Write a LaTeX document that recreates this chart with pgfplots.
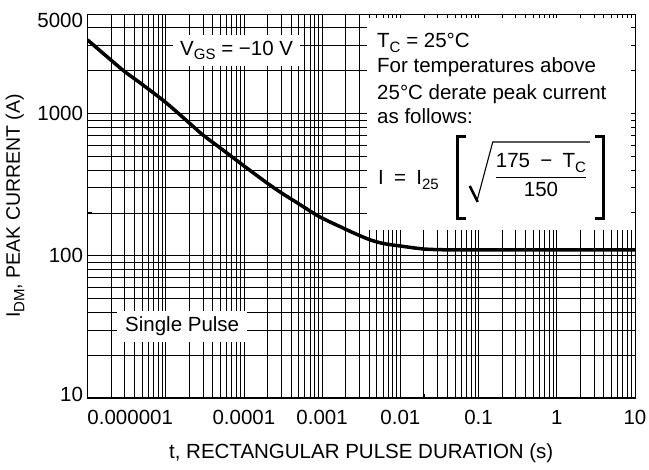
\documentclass[border=0pt]{standalone}
\usepackage{fontspec}
\setmainfont{Liberation Sans}
\usepackage{pgfplots}
\pgfplotsset{compat=1.18}

% lowered subscript in the text font
\newcommand\sub[1]{\raisebox{-4.5pt}{\fontsize{15}{15}\selectfont #1}}
% heavy square brackets of the derating formula
\newcommand\lbrk{\rule[-35pt]{3pt}{85pt}\rlap{\rule[-35pt]{7pt}{3pt}}\rlap{\rule[47pt]{7pt}{3pt}}}
\newcommand\rbrk{\llap{\rule[-35pt]{7pt}{3pt}}\llap{\rule[47pt]{7pt}{3pt}}\rule[-35pt]{3pt}{85pt}}
% root sign with a bold check, as in the datasheet
\newcommand\rootsign{\rlap{\tikz[baseline=0pt, trim left=0pt]{%
  \draw[line width=2.6pt] (0pt,-1pt) -- (8pt,-17pt);
  \draw[line width=1.1pt, line join=miter] (7.2pt,-16pt) -- (23pt,43pt) -- (120pt,43pt);}}}

\begin{document}
\begin{tikzpicture}[font=\fontsize{20.5}{25}\selectfont]
\begin{axis}[
    name=ax,
    xmode=log, ymode=log,
    scale only axis, width=547.5pt, height=384pt,
    xmin=1e-6, xmax=10, ymin=10, ymax=5000,
    xtick={1e-6,1e-5,1e-4,1e-3,1e-2,1e-1,1,10},
    ytick={10,100,1000,5000},
    minor xtick={2e-6,3e-6,4e-6,5e-6,6e-6,7e-6,8e-6,9e-6,
                 2e-5,3e-5,4e-5,5e-5,6e-5,7e-5,8e-5,9e-5,
                 2e-4,3e-4,4e-4,5e-4,6e-4,7e-4,8e-4,9e-4,
                 2e-3,3e-3,4e-3,5e-3,6e-3,7e-3,8e-3,9e-3,
                 0.02,0.03,0.04,0.05,0.06,0.07,0.08,0.09,
                 0.2,0.3,0.4,0.5,0.6,0.7,0.8,0.9,
                 2,3,4,5,6,7,8,9},
    minor ytick={20,30,40,50,60,70,80,90,
                 200,300,400,500,600,700,800,900,
                 2000,3000,4000},
    grid=both,
    major grid style={black, line width=0.8pt},
    minor grid style={black, line width=0.8pt},
    major tick length=0pt, minor tick length=0pt,
    axis line style={line width=0.8pt},
    xticklabels={\makebox[0pt][l]{0.000001},,0.0001,0.001,0.01,0.1,1,10},
    yticklabels={\raisebox{4pt}[\height][0pt]{10},100,1000,\raisebox{-6pt}[\height][0pt]{5000}},
    xticklabel style={yshift=-9pt},
    yticklabel style={xshift=-1pt},
    xlabel={t, RECTANGULAR PULSE DURATION (s)},
    ylabel={I\sub{DM}, PEAK CURRENT (A)},
    every axis x label/.style={at={(axis description cs:0.5,-0.143)}, anchor=center},
    every axis y label/.style={at={(axis description cs:-0.1324,0.5)}, anchor=center, rotate=90,
      font=\fontsize{19.5}{24}\selectfont},
  ]
  \addplot[black, line width=3.5pt, smooth] coordinates {
    (1e-6,3290) (2e-6,2370) (3e-6,1966) (5e-6,1600) (1e-5,1195)
    (2e-5,857) (3e-5,705) (5e-5,571) (1e-4,428) (2e-4,323)
    (3e-4,277) (5e-4,232) (8.5e-4,193) (1.2e-3,175) (1.7e-3,160)
    (2.5e-3,145) (4e-3,130) (6e-3,122) (1e-2,117) (2e-2,111.5)
    (4e-2,110) (0.1,110) (1,110) (10,110)
  };

  % white panels
  \fill[white] (rel axis cs:0.5105,0.4375) rectangle (rel axis cs:1,1);
  \node[fill=white, inner xsep=7pt, inner ysep=6pt, anchor=base west]
    at (rel axis cs:0.1562,0.8932) {V\sub{GS} = −10 V};
  \node[fill=white, inner xsep=8pt, inner ysep=6pt, anchor=base west]
    at (rel axis cs:0.0539,0.1727) {Single Pulse};

  \node[inner sep=0pt, anchor=base west] at (rel axis cs:0.5288,0.9115) {T\sub{C} = 25°C};
  \node[inner sep=0pt, anchor=base west] at (rel axis cs:0.5288,0.8464) {For temperatures above};
  \node[inner sep=0pt, anchor=base west] at (rel axis cs:0.5288,0.7786) {25°C derate peak current};
  \node[inner sep=0pt, anchor=base west] at (rel axis cs:0.5288,0.7161) {as follows:};
  \node[inner sep=0pt, anchor=base west] at (rel axis cs:0.5306,0.5547)
    {I\hspace{0.5em}=\hspace{0.5em}I\sub{25}\hspace{17pt}\lbrk\hspace{11pt}\rootsign\hspace{25pt}%
     \raisebox{3pt}{$\displaystyle\frac{\mbox{175\hspace{0.5em}−\hspace{0.5em}T\sub{C}}}{\mbox{150}}$}%
     \hspace{15pt}\rbrk};
\end{axis}

% frame and inward ticks drawn over the white panels
\begin{axis}[
    xmode=log, ymode=log,
    scale only axis, width=547.5pt, height=384pt,
    xmin=1e-6, xmax=10, ymin=10, ymax=5000,
    xtick={1e-6,1e-5,1e-4,1e-3,1e-2,1e-1,1,10},
    ytick={10,100,1000,5000},
    minor xtick={2e-6,3e-6,4e-6,5e-6,6e-6,7e-6,8e-6,9e-6,
                 2e-5,3e-5,4e-5,5e-5,6e-5,7e-5,8e-5,9e-5,
                 2e-4,3e-4,4e-4,5e-4,6e-4,7e-4,8e-4,9e-4,
                 2e-3,3e-3,4e-3,5e-3,6e-3,7e-3,8e-3,9e-3,
                 0.02,0.03,0.04,0.05,0.06,0.07,0.08,0.09,
                 0.2,0.3,0.4,0.5,0.6,0.7,0.8,0.9,
                 2,3,4,5,6,7,8,9},
    minor ytick={20,30,40,50,60,70,80,90,
                 200,300,400,500,600,700,800,900,
                 2000,3000,4000},
    xticklabels={}, yticklabels={},
    tick align=inside,
    major tick length=4.5pt, minor tick length=4.5pt,
    tick style={black, line width=0.8pt},
    axis line style={line width=0.8pt},
  ]
  \draw[line width=2pt] (rel axis cs:0,1) -- (rel axis cs:0,0) -- (rel axis cs:1,0);
\end{axis}

\pgfresetboundingbox
\path ([shift={(-87.5pt,-71pt)}]ax.south west) rectangle ([shift={(14pt,14pt)}]ax.north east);
\end{tikzpicture}
\end{document}
